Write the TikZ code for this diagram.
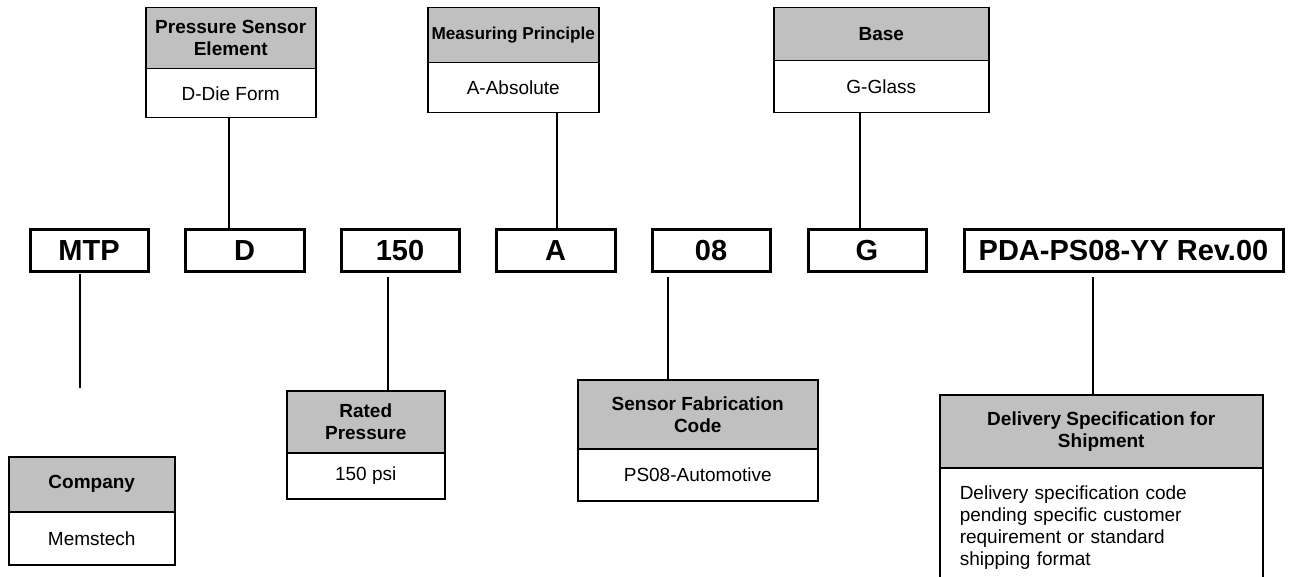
\documentclass[tikz,border=0pt]{standalone}
\usepackage{fontspec}
\setmainfont{Liberation Sans}
\definecolor{hdrgray}{HTML}{C0C0C0}
\begin{document}
\begin{tikzpicture}[x=1pt,y=-1pt,
  lbl/.style={draw=black, line width=1.5pt, inner sep=0pt, align=center, anchor=north west, font=\fontsize{19}{22}\selectfont},
  hdr/.style={lbl, fill=hdrgray, font=\fontsize{19}{22}\selectfont\bfseries},
  code/.style={draw=black, line width=3pt, inner sep=0pt, anchor=north west, minimum height=42pt, font=\fontsize{29}{34}\selectfont\bfseries},
  link/.style={line width=1.3pt}]
\clip (0,0) rectangle (1299,577);
\fill[white] (0,0) rectangle (1299,577);

% top label boxes
\node[hdr, minimum width=170pt, minimum height=61pt] (pseh) at (145,7) {Pressure Sensor\\Element};
\node[lbl, minimum width=170pt, minimum height=49pt] (pseb) at (145,68) {D-Die Form};
\node[hdr, minimum width=171pt, minimum height=55pt, font=\fontsize{17.2}{20}\selectfont\bfseries] (mph) at (427,7) {Measuring Principle};
\node[lbl, minimum width=171pt, minimum height=50pt] (mpb) at (427,62) {A-Absolute};
\node[hdr, minimum width=215pt, minimum height=53pt] (baseh) at (773,7) {Base};
\node[lbl, minimum width=215pt, minimum height=52pt] (baseb) at (773,60) {G-Glass};

% code boxes
\node[code, minimum width=118pt] (MTP) at (28.5,228.5) {MTP};
\node[code, minimum width=119pt] (D) at (183.5,228.5) {D};
\node[code, minimum width=118pt] (B150) at (339.5,228.5) {150};
\node[code, minimum width=119pt] (A) at (494.5,228.5) {A};
\node[code, minimum width=118pt] (B08) at (650.5,228.5) {08};
\node[code, minimum width=118pt] (G) at (806.5,228.5) {G};
\node[code, minimum width=319pt] (PDA) at (962.5,228.5) {PDA-PS08-YY Rev.00};

% bottom label boxes
\node[hdr, minimum width=166pt, minimum height=55pt] (coh) at (8,456) {Company};
\node[lbl, minimum width=166pt, minimum height=53pt] (cob) at (8,511) {Memstech};
\node[hdr, minimum width=158pt, minimum height=62pt] (rph) at (286,390) {Rated\\Pressure};
\node[lbl, minimum width=158pt, minimum height=46pt] (rpb) at (286,452) {150 psi};
\node[hdr, minimum width=240pt, minimum height=69pt] (sfh) at (577,379) {Sensor Fabrication\\Code};
\node[lbl, minimum width=240pt, minimum height=52pt] (sfb) at (577,448) {PS08-Automotive};
\node[hdr, minimum width=323pt, minimum height=73pt] (dsh) at (939,394) {Delivery Specification for\\Shipment};
\node[lbl, align=left, text width=283pt, inner xsep=20pt, minimum height=120pt] (dsb) at (939,467)
  {Delivery specification code\\pending specific customer\\requirement or standard\\shipping format};

% connector x positions
\coordinate (xPSE) at (229,0);
\coordinate (xMP) at (557,0);
\coordinate (xBase) at (860,0);
\coordinate (xMTP) at (80,0);
\coordinate (x150) at (388,0);
\coordinate (x08) at (668,0);
\coordinate (xPDA) at (1093,0);
\coordinate (mtpend) at (80,388);

% connectors
\draw[link] (pseb.south -| xPSE) -- (D.north -| xPSE);
\draw[link] (mpb.south -| xMP) -- (A.north -| xMP);
\draw[link] (baseb.south -| xBase) -- (G.north -| xBase);
\draw[link] ([yshift=-1pt]MTP.south -| xMTP) -- (mtpend);
\draw[link] ([yshift=-4pt]B150.south -| x150) -- (rph.north -| x150);
\draw[link] ([yshift=-4pt]B08.south -| x08) -- (sfh.north -| x08);
\draw[link] ([yshift=-4pt]PDA.south -| xPDA) -- (dsh.north -| xPDA);
\end{tikzpicture}
\end{document}
